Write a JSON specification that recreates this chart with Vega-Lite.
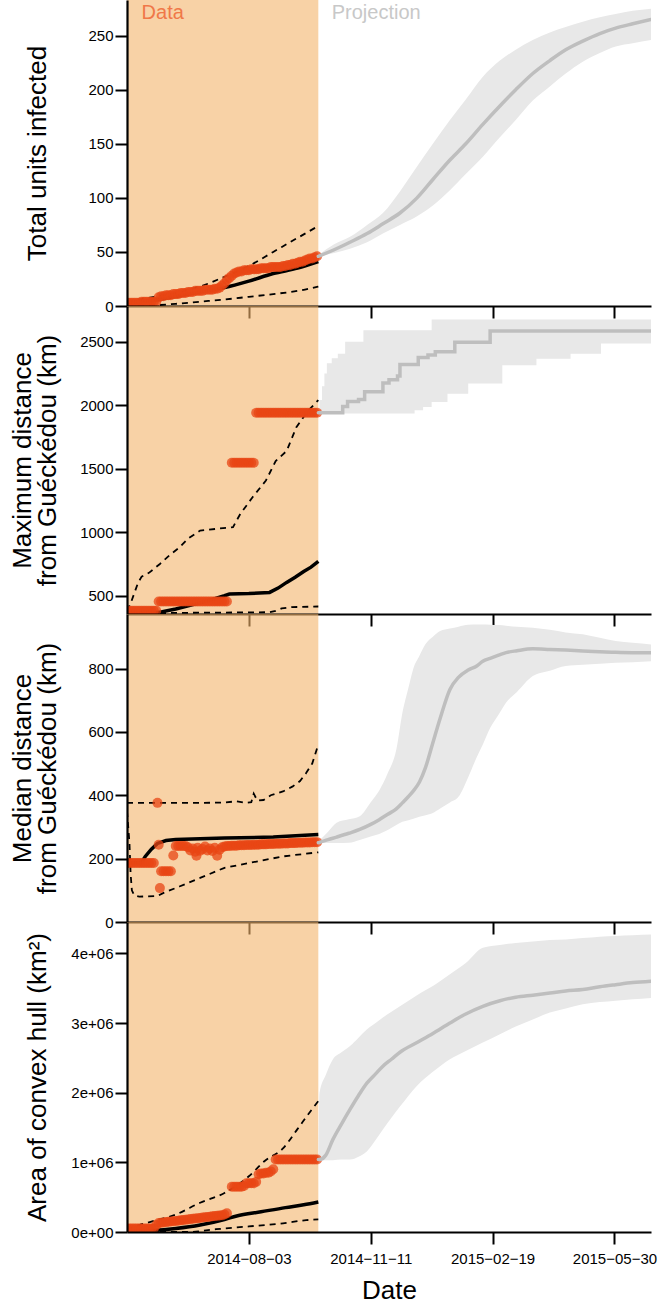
{
  "$schema": "https://vega.github.io/schema/vega-lite/v6.json",
  "autosize": {"type": "pad"},
  "padding": {"left": 9, "top": 0, "right": 4, "bottom": 3},
  "background": "white",
  "spacing": 0,
  "bounds": "flush",
  "config": {
    "font": "Liberation Sans",
    "view": {"stroke": null},
    "axis": {"grid": false, "domainColor": "#000", "domainWidth": 2.2, "tickColor": "#000", "tickWidth": 2, "tickSize": 12, "labelColor": "#000", "labelFontSize": 15, "titleColor": "#000", "titleFontSize": 26, "titleFontWeight": "normal", "zindex": 1, "labelFont": "Liberation Sans", "titleFont": "Liberation Sans"},
    "axisY": {"labelPadding": 2, "titleBaseline": "alphabetic", "titleLineHeight": 25},
    "axisX": {"labelPadding": 7, "labelFlush": false, "labelOverlap": false}
  },
  "datasets": {
    "obs1": [{"d":"2014-04-25","v":3},{"d":"2014-04-27","v":3},{"d":"2014-04-29","v":3},{"d":"2014-05-01","v":3},{"d":"2014-05-03","v":3},{"d":"2014-05-05","v":3},{"d":"2014-05-07","v":4},{"d":"2014-05-09","v":4},{"d":"2014-05-11","v":4},{"d":"2014-05-13","v":4},{"d":"2014-05-15","v":4},{"d":"2014-05-17","v":4},{"d":"2014-05-19","v":4},{"d":"2014-05-21","v":8},{"d":"2014-05-23","v":9},{"d":"2014-05-25","v":9},{"d":"2014-05-27","v":10},{"d":"2014-05-29","v":10},{"d":"2014-05-31","v":10},{"d":"2014-06-02","v":11},{"d":"2014-06-04","v":11},{"d":"2014-06-06","v":11},{"d":"2014-06-08","v":12},{"d":"2014-06-10","v":12},{"d":"2014-06-12","v":12},{"d":"2014-06-14","v":13},{"d":"2014-06-16","v":13},{"d":"2014-06-18","v":13},{"d":"2014-06-20","v":14},{"d":"2014-06-22","v":14},{"d":"2014-06-24","v":14},{"d":"2014-06-26","v":14},{"d":"2014-06-28","v":15},{"d":"2014-06-30","v":15},{"d":"2014-07-02","v":15},{"d":"2014-07-04","v":15},{"d":"2014-07-06","v":16},{"d":"2014-07-08","v":16},{"d":"2014-07-10","v":17},{"d":"2014-07-12","v":19},{"d":"2014-07-14","v":21},{"d":"2014-07-16","v":24},{"d":"2014-07-18","v":26},{"d":"2014-07-20","v":28},{"d":"2014-07-22","v":30},{"d":"2014-07-24","v":31},{"d":"2014-07-26","v":32},{"d":"2014-07-28","v":32},{"d":"2014-07-30","v":33},{"d":"2014-08-01","v":33},{"d":"2014-08-03","v":33},{"d":"2014-08-05","v":34},{"d":"2014-08-07","v":34},{"d":"2014-08-09","v":34},{"d":"2014-08-11","v":34},{"d":"2014-08-13","v":35},{"d":"2014-08-15","v":35},{"d":"2014-08-17","v":35},{"d":"2014-08-19","v":35},{"d":"2014-08-21","v":36},{"d":"2014-08-23","v":36},{"d":"2014-08-25","v":36},{"d":"2014-08-27","v":36},{"d":"2014-08-29","v":36},{"d":"2014-08-31","v":37},{"d":"2014-09-02","v":37},{"d":"2014-09-04","v":38},{"d":"2014-09-06","v":38},{"d":"2014-09-08","v":39},{"d":"2014-09-10","v":39},{"d":"2014-09-12","v":40},{"d":"2014-09-14","v":41},{"d":"2014-09-16","v":41},{"d":"2014-09-18","v":42},{"d":"2014-09-20","v":43},{"d":"2014-09-22","v":44},{"d":"2014-09-24","v":44},{"d":"2014-09-26","v":45},{"d":"2014-09-28","v":46}],
    "fit1": [{"d":"2014-04-25","s":"med","v":3},{"d":"2014-05-15","s":"med","v":5},{"d":"2014-06-04","s":"med","v":9},{"d":"2014-06-24","s":"med","v":13},{"d":"2014-07-14","s":"med","v":17},{"d":"2014-08-03","s":"med","v":23},{"d":"2014-08-23","s":"med","v":30},{"d":"2014-09-12","s":"med","v":35},{"d":"2014-09-29","s":"med","v":41},
      {"d":"2014-04-25","s":"lo","v":0},{"d":"2014-05-15","s":"lo","v":0.5},{"d":"2014-06-04","s":"lo","v":2},{"d":"2014-06-24","s":"lo","v":4},{"d":"2014-07-14","s":"lo","v":6},{"d":"2014-08-03","s":"lo","v":8.5},{"d":"2014-08-23","s":"lo","v":11},{"d":"2014-09-12","s":"lo","v":14},{"d":"2014-09-29","s":"lo","v":18},
      {"d":"2014-04-25","s":"hi","v":4},{"d":"2014-05-15","s":"hi","v":8},{"d":"2014-06-04","s":"hi","v":12},{"d":"2014-06-24","s":"hi","v":18},{"d":"2014-07-14","s":"hi","v":27},{"d":"2014-08-03","s":"hi","v":37},{"d":"2014-08-23","s":"hi","v":50},{"d":"2014-09-12","s":"hi","v":63},{"d":"2014-09-29","s":"hi","v":74}],
    "proj1": [{"d":"2014-09-29","med":46,"lo":46,"hi":47},{"d":"2014-10-12","med":52,"lo":49,"hi":57},{"d":"2014-10-25","med":59,"lo":53,"hi":64},{"d":"2014-11-08","med":67,"lo":59,"hi":75},{"d":"2014-11-21","med":76,"lo":67,"hi":86},{"d":"2014-12-05","med":86,"lo":75,"hi":106},{"d":"2014-12-19","med":100,"lo":83,"hi":129},{"d":"2015-01-01","med":117,"lo":93,"hi":150},{"d":"2015-01-15","med":135,"lo":107,"hi":172},{"d":"2015-01-28","med":150,"lo":122,"hi":191},{"d":"2015-02-11","med":168,"lo":138,"hi":212},{"d":"2015-02-25","med":185,"lo":156,"hi":227},{"d":"2015-03-10","med":200,"lo":172,"hi":237},{"d":"2015-03-24","med":215,"lo":190,"hi":246},{"d":"2015-04-07","med":227,"lo":203,"hi":253},{"d":"2015-04-20","med":237,"lo":215,"hi":258},{"d":"2015-05-04","med":245,"lo":226,"hi":263},{"d":"2015-05-18","med":252,"lo":234,"hi":267},{"d":"2015-05-31","med":257,"lo":240,"hi":270},{"d":"2015-06-14","med":261,"lo":243,"hi":273},{"d":"2015-06-29","med":265,"lo":246,"hi":275}],
    "labels1": [{"d":"2014-05-07","label":"Data","kind":"data"},{"d":"2014-10-10","label":"Projection","kind":"projection"}],
    "obs2": [{"d":"2014-04-25","v":382},{"d":"2014-04-27","v":382},{"d":"2014-04-29","v":382},{"d":"2014-05-01","v":382},{"d":"2014-05-03","v":382},{"d":"2014-05-05","v":382},{"d":"2014-05-07","v":382},{"d":"2014-05-09","v":382},{"d":"2014-05-11","v":382},{"d":"2014-05-13","v":382},{"d":"2014-05-15","v":382},{"d":"2014-05-17","v":382},{"d":"2014-05-19","v":382},{"d":"2014-05-21","v":455},{"d":"2014-05-23","v":455},{"d":"2014-05-25","v":455},{"d":"2014-05-27","v":455},{"d":"2014-05-29","v":455},{"d":"2014-05-31","v":455},{"d":"2014-06-02","v":455},{"d":"2014-06-04","v":455},{"d":"2014-06-06","v":455},{"d":"2014-06-08","v":455},{"d":"2014-06-10","v":455},{"d":"2014-06-12","v":455},{"d":"2014-06-14","v":455},{"d":"2014-06-16","v":455},{"d":"2014-06-18","v":455},{"d":"2014-06-20","v":455},{"d":"2014-06-22","v":455},{"d":"2014-06-24","v":455},{"d":"2014-06-26","v":455},{"d":"2014-06-28","v":455},{"d":"2014-06-30","v":455},{"d":"2014-07-02","v":455},{"d":"2014-07-04","v":455},{"d":"2014-07-06","v":455},{"d":"2014-07-08","v":455},{"d":"2014-07-10","v":455},{"d":"2014-07-12","v":455},{"d":"2014-07-14","v":455},{"d":"2014-07-16","v":455},{"d":"2014-07-20","v":1547},{"d":"2014-07-22","v":1547},{"d":"2014-07-24","v":1547},{"d":"2014-07-26","v":1547},{"d":"2014-07-28","v":1547},{"d":"2014-07-30","v":1547},{"d":"2014-08-01","v":1547},{"d":"2014-08-03","v":1547},{"d":"2014-08-05","v":1547},{"d":"2014-08-07","v":1547},{"d":"2014-08-09","v":1940},{"d":"2014-08-11","v":1940},{"d":"2014-08-13","v":1940},{"d":"2014-08-15","v":1940},{"d":"2014-08-17","v":1940},{"d":"2014-08-19","v":1940},{"d":"2014-08-21","v":1940},{"d":"2014-08-23","v":1940},{"d":"2014-08-25","v":1940},{"d":"2014-08-27","v":1940},{"d":"2014-08-29","v":1940},{"d":"2014-08-31","v":1940},{"d":"2014-09-02","v":1940},{"d":"2014-09-04","v":1940},{"d":"2014-09-06","v":1940},{"d":"2014-09-08","v":1940},{"d":"2014-09-10","v":1940},{"d":"2014-09-12","v":1940},{"d":"2014-09-14","v":1940},{"d":"2014-09-16","v":1940},{"d":"2014-09-18","v":1940},{"d":"2014-09-20","v":1940},{"d":"2014-09-22","v":1940},{"d":"2014-09-24","v":1940},{"d":"2014-09-26","v":1940},{"d":"2014-09-28","v":1940}],
    "fit2": [{"d":"2014-04-25","s":"med","v":365},{"d":"2014-05-21","s":"med","v":369},{"d":"2014-06-04","s":"med","v":395},{"d":"2014-06-19","s":"med","v":432},{"d":"2014-07-04","s":"med","v":470},{"d":"2014-07-14","s":"med","v":500},{"d":"2014-07-18","s":"med","v":513},{"d":"2014-08-03","s":"med","v":517},{"d":"2014-08-20","s":"med","v":526},{"d":"2014-08-27","s":"med","v":560},{"d":"2014-09-03","s":"med","v":605},{"d":"2014-09-10","s":"med","v":645},{"d":"2014-09-17","s":"med","v":690},{"d":"2014-09-23","s":"med","v":725},{"d":"2014-09-29","s":"med","v":770},
      {"d":"2014-04-25","s":"hi","v":382},{"d":"2014-04-28","s":"hi","v":440},{"d":"2014-05-01","s":"hi","v":520},{"d":"2014-05-04","s":"hi","v":600},{"d":"2014-05-07","s":"hi","v":650},{"d":"2014-05-13","s":"hi","v":680},{"d":"2014-05-22","s":"hi","v":750},{"d":"2014-05-30","s":"hi","v":820},{"d":"2014-06-07","s":"hi","v":880},{"d":"2014-06-14","s":"hi","v":950},{"d":"2014-06-24","s":"hi","v":1013},{"d":"2014-07-07","s":"hi","v":1026},{"d":"2014-07-21","s":"hi","v":1040},{"d":"2014-07-27","s":"hi","v":1144},{"d":"2014-08-06","s":"hi","v":1275},{"d":"2014-08-17","s":"hi","v":1407},{"d":"2014-08-25","s":"hi","v":1560},{"d":"2014-09-03","s":"hi","v":1640},{"d":"2014-09-11","s":"hi","v":1827},{"d":"2014-09-20","s":"hi","v":1950},{"d":"2014-09-29","s":"hi","v":2040},
      {"d":"2014-04-25","s":"lo","v":360},{"d":"2014-05-15","s":"lo","v":362},{"d":"2014-06-04","s":"lo","v":365},{"d":"2014-07-24","s":"lo","v":368},{"d":"2014-08-20","s":"lo","v":370},{"d":"2014-08-25","s":"lo","v":380},{"d":"2014-08-30","s":"lo","v":400},{"d":"2014-09-07","s":"lo","v":410},{"d":"2014-09-29","s":"lo","v":415}],
    "proj2": [{"d":"2014-09-29","med":1940,"lo":1935,"hi":1940},{"d":"2014-09-30","med":1940,"lo":1935,"hi":2040},{"d":"2014-10-02","med":1940,"lo":1935,"hi":2150},{"d":"2014-10-04","med":1940,"lo":1935,"hi":2250},{"d":"2014-10-06","med":1940,"lo":1935,"hi":2330},{"d":"2014-10-10","med":1940,"lo":1935,"hi":2370},{"d":"2014-10-15","med":1940,"lo":1935,"hi":2405},{"d":"2014-10-19","med":1990,"lo":1935,"hi":2405},{"d":"2014-10-21","med":1990,"lo":1935,"hi":2500},{"d":"2014-10-23","med":2030,"lo":1935,"hi":2500},{"d":"2014-11-01","med":2045,"lo":1935,"hi":2500},{"d":"2014-11-05","med":2045,"lo":1935,"hi":2590},{"d":"2014-11-06","med":2105,"lo":1935,"hi":2590},{"d":"2014-11-21","med":2175,"lo":1935,"hi":2590},{"d":"2014-11-26","med":2200,"lo":1935,"hi":2590},{"d":"2014-12-03","med":2230,"lo":1935,"hi":2590},{"d":"2014-12-05","med":2320,"lo":1935,"hi":2590},{"d":"2014-12-17","med":2320,"lo":1960,"hi":2590},{"d":"2014-12-20","med":2375,"lo":1960,"hi":2590},{"d":"2014-12-24","med":2375,"lo":1985,"hi":2590},{"d":"2014-12-28","med":2395,"lo":1985,"hi":2590},{"d":"2014-12-31","med":2395,"lo":2025,"hi":2675},{"d":"2015-01-03","med":2420,"lo":2025,"hi":2675},{"d":"2015-01-13","med":2420,"lo":2090,"hi":2675},{"d":"2015-01-19","med":2495,"lo":2090,"hi":2675},{"d":"2015-01-30","med":2495,"lo":2170,"hi":2675},{"d":"2015-02-17","med":2585,"lo":2170,"hi":2675},{"d":"2015-02-27","med":2585,"lo":2315,"hi":2675},{"d":"2015-03-27","med":2585,"lo":2365,"hi":2675},{"d":"2015-04-24","med":2585,"lo":2405,"hi":2675},{"d":"2015-05-19","med":2585,"lo":2485,"hi":2675},{"d":"2015-06-29","med":2585,"lo":2485,"hi":2675}],
    "obs3": [{"d":"2014-04-25","v":186},{"d":"2014-04-27","v":186},{"d":"2014-04-29","v":186},{"d":"2014-05-01","v":186},{"d":"2014-05-03","v":186},{"d":"2014-05-05","v":186},{"d":"2014-05-07","v":186},{"d":"2014-05-09","v":186},{"d":"2014-05-11","v":186},{"d":"2014-05-13","v":186},{"d":"2014-05-15","v":186},{"d":"2014-05-17","v":186},{"d":"2014-05-20","v":376},{"d":"2014-05-21","v":244},{"d":"2014-05-22","v":107},{"d":"2014-05-23","v":160},{"d":"2014-05-25","v":160},{"d":"2014-05-27","v":160},{"d":"2014-05-29","v":160},{"d":"2014-05-31","v":160},{"d":"2014-06-02","v":210},{"d":"2014-06-04","v":240},{"d":"2014-06-06","v":240},{"d":"2014-06-08","v":240},{"d":"2014-06-10","v":240},{"d":"2014-06-12","v":240},{"d":"2014-06-14","v":236},{"d":"2014-06-16","v":226},{"d":"2014-06-18","v":232},{"d":"2014-06-20","v":222},{"d":"2014-06-21","v":209},{"d":"2014-06-22","v":234},{"d":"2014-06-24","v":225},{"d":"2014-06-26","v":230},{"d":"2014-06-28","v":238},{"d":"2014-06-30","v":226},{"d":"2014-07-02","v":232},{"d":"2014-07-04","v":224},{"d":"2014-07-06","v":234},{"d":"2014-07-08","v":209},{"d":"2014-07-10","v":228},{"d":"2014-07-12","v":236},{"d":"2014-07-14","v":238},{"d":"2014-07-16","v":240},{"d":"2014-07-18","v":240},{"d":"2014-07-20","v":241},{"d":"2014-07-22","v":241},{"d":"2014-07-24","v":241},{"d":"2014-07-26","v":242},{"d":"2014-07-28","v":242},{"d":"2014-07-30","v":242},{"d":"2014-08-01","v":243},{"d":"2014-08-03","v":243},{"d":"2014-08-05","v":243},{"d":"2014-08-07","v":244},{"d":"2014-08-09","v":244},{"d":"2014-08-11","v":244},{"d":"2014-08-13","v":245},{"d":"2014-08-15","v":245},{"d":"2014-08-17","v":245},{"d":"2014-08-19","v":246},{"d":"2014-08-21","v":246},{"d":"2014-08-23","v":246},{"d":"2014-08-25","v":247},{"d":"2014-08-27","v":247},{"d":"2014-08-29","v":247},{"d":"2014-08-31","v":248},{"d":"2014-09-02","v":248},{"d":"2014-09-04","v":248},{"d":"2014-09-06","v":249},{"d":"2014-09-08","v":249},{"d":"2014-09-10","v":249},{"d":"2014-09-12","v":250},{"d":"2014-09-14","v":250},{"d":"2014-09-16","v":250},{"d":"2014-09-18","v":251},{"d":"2014-09-20","v":251},{"d":"2014-09-22","v":251},{"d":"2014-09-24","v":252},{"d":"2014-09-26","v":252},{"d":"2014-09-28","v":252}],
    "fit3": [{"d":"2014-04-25","s":"med","v":186},{"d":"2014-05-07","s":"med","v":188},{"d":"2014-05-10","s":"med","v":207},{"d":"2014-05-15","s":"med","v":230},{"d":"2014-05-20","s":"med","v":248},{"d":"2014-05-27","s":"med","v":257},{"d":"2014-06-04","s":"med","v":260},{"d":"2014-07-14","s":"med","v":265},{"d":"2014-08-23","s":"med","v":268},{"d":"2014-09-29","s":"med","v":276},
      {"d":"2014-04-25","s":"lo","v":350},{"d":"2014-04-27","s":"lo","v":250},{"d":"2014-04-28","s":"lo","v":150},{"d":"2014-04-29","s":"lo","v":100},{"d":"2014-05-01","s":"lo","v":84},{"d":"2014-05-05","s":"lo","v":80},{"d":"2014-05-20","s":"lo","v":82},{"d":"2014-05-25","s":"lo","v":92},{"d":"2014-06-07","s":"lo","v":112},{"d":"2014-06-24","s":"lo","v":139},{"d":"2014-07-14","s":"lo","v":171},{"d":"2014-08-03","s":"lo","v":186},{"d":"2014-08-31","s":"lo","v":207},{"d":"2014-09-29","s":"lo","v":220},
      {"d":"2014-04-25","s":"hi","v":376},{"d":"2014-06-24","s":"hi","v":376},{"d":"2014-07-14","s":"hi","v":377},{"d":"2014-07-24","s":"hi","v":381},{"d":"2014-08-01","s":"hi","v":376},{"d":"2014-08-05","s":"hi","v":378},{"d":"2014-08-07","s":"hi","v":405},{"d":"2014-08-10","s":"hi","v":383},{"d":"2014-08-15","s":"hi","v":385},{"d":"2014-08-21","s":"hi","v":400},{"d":"2014-08-31","s":"hi","v":412},{"d":"2014-09-08","s":"hi","v":428},{"d":"2014-09-14","s":"hi","v":445},{"d":"2014-09-19","s":"hi","v":470},{"d":"2014-09-24","s":"hi","v":500},{"d":"2014-09-29","s":"hi","v":560}],
    "proj3": [{"d":"2014-09-29","med":250,"lo":248,"hi":253},{"d":"2014-10-07","med":260,"lo":249,"hi":285},{"d":"2014-10-14","med":268,"lo":249,"hi":313},{"d":"2014-10-24","med":280,"lo":250,"hi":324},{"d":"2014-11-02","med":292,"lo":259,"hi":334},{"d":"2014-11-11","med":308,"lo":270,"hi":378},{"d":"2014-11-18","med":323,"lo":278,"hi":415},{"d":"2014-11-25","med":340,"lo":290,"hi":470},{"d":"2014-12-02","med":357,"lo":306,"hi":544},{"d":"2014-12-07","med":376,"lo":316,"hi":660},{"d":"2014-12-12","med":396,"lo":321,"hi":740},{"d":"2014-12-16","med":414,"lo":326,"hi":800},{"d":"2014-12-21","med":442,"lo":332,"hi":840},{"d":"2014-12-26","med":488,"lo":337,"hi":877},{"d":"2015-01-01","med":566,"lo":344,"hi":900},{"d":"2015-01-07","med":643,"lo":358,"hi":918},{"d":"2015-01-15","med":734,"lo":377,"hi":926},{"d":"2015-01-22","med":772,"lo":395,"hi":932},{"d":"2015-01-30","med":795,"lo":457,"hi":938},{"d":"2015-02-06","med":808,"lo":520,"hi":939},{"d":"2015-02-11","med":823,"lo":560,"hi":939},{"d":"2015-02-17","med":832,"lo":612,"hi":938},{"d":"2015-02-24","med":842,"lo":655,"hi":937},{"d":"2015-03-02","med":850,"lo":692,"hi":935},{"d":"2015-03-11","med":856,"lo":726,"hi":932},{"d":"2015-03-24","med":862,"lo":776,"hi":929},{"d":"2015-04-07","med":860,"lo":793,"hi":922},{"d":"2015-04-20","med":858,"lo":808,"hi":914},{"d":"2015-05-04","med":855,"lo":812,"hi":908},{"d":"2015-05-18","med":853,"lo":815,"hi":897},{"d":"2015-05-31","med":851,"lo":818,"hi":887},{"d":"2015-06-14","med":850,"lo":820,"hi":881},{"d":"2015-06-29","med":850,"lo":823,"hi":876}],
    "obs4": [{"d":"2014-04-25","v":50000},{"d":"2014-04-27","v":50000},{"d":"2014-04-29","v":50000},{"d":"2014-05-01","v":50000},{"d":"2014-05-03","v":50000},{"d":"2014-05-05","v":50000},{"d":"2014-05-07","v":50000},{"d":"2014-05-09","v":50000},{"d":"2014-05-11","v":50000},{"d":"2014-05-13","v":50000},{"d":"2014-05-15","v":50000},{"d":"2014-05-17","v":50000},{"d":"2014-05-19","v":100000},{"d":"2014-05-21","v":130000},{"d":"2014-05-23","v":134000},{"d":"2014-05-25","v":138000},{"d":"2014-05-27","v":142000},{"d":"2014-05-29","v":146000},{"d":"2014-05-31","v":150000},{"d":"2014-06-02","v":155000},{"d":"2014-06-04","v":159000},{"d":"2014-06-06","v":163000},{"d":"2014-06-08","v":167000},{"d":"2014-06-10","v":172000},{"d":"2014-06-12","v":176000},{"d":"2014-06-14","v":180000},{"d":"2014-06-16","v":185000},{"d":"2014-06-18","v":190000},{"d":"2014-06-20","v":194000},{"d":"2014-06-22","v":198000},{"d":"2014-06-24","v":202000},{"d":"2014-06-26","v":207000},{"d":"2014-06-28","v":211000},{"d":"2014-06-30","v":215000},{"d":"2014-07-02","v":220000},{"d":"2014-07-04","v":225000},{"d":"2014-07-06","v":229000},{"d":"2014-07-08","v":233000},{"d":"2014-07-10","v":238000},{"d":"2014-07-12","v":242000},{"d":"2014-07-14","v":250000},{"d":"2014-07-16","v":270000},{"d":"2014-07-20","v":650000},{"d":"2014-07-22","v":650000},{"d":"2014-07-24","v":650000},{"d":"2014-07-26","v":650000},{"d":"2014-07-28","v":650000},{"d":"2014-07-30","v":660000},{"d":"2014-08-01","v":700000},{"d":"2014-08-03","v":700000},{"d":"2014-08-05","v":700000},{"d":"2014-08-07","v":700000},{"d":"2014-08-09","v":720000},{"d":"2014-08-11","v":830000},{"d":"2014-08-13","v":840000},{"d":"2014-08-15","v":840000},{"d":"2014-08-17","v":850000},{"d":"2014-08-19","v":850000},{"d":"2014-08-21","v":870000},{"d":"2014-08-23","v":900000},{"d":"2014-08-25","v":1040000},{"d":"2014-08-27","v":1040000},{"d":"2014-08-29","v":1040000},{"d":"2014-08-31","v":1040000},{"d":"2014-09-02","v":1040000},{"d":"2014-09-04","v":1040000},{"d":"2014-09-06","v":1040000},{"d":"2014-09-08","v":1040000},{"d":"2014-09-10","v":1040000},{"d":"2014-09-12","v":1040000},{"d":"2014-09-14","v":1040000},{"d":"2014-09-16","v":1040000},{"d":"2014-09-18","v":1040000},{"d":"2014-09-20","v":1040000},{"d":"2014-09-22","v":1040000},{"d":"2014-09-24","v":1040000},{"d":"2014-09-26","v":1040000},{"d":"2014-09-28","v":1040000}],
    "fit4": [{"d":"2014-04-25","s":"med","v":10000},{"d":"2014-05-15","s":"med","v":20000},{"d":"2014-06-04","s":"med","v":50000},{"d":"2014-06-24","s":"med","v":100000},{"d":"2014-07-14","s":"med","v":180000},{"d":"2014-07-24","s":"med","v":230000},{"d":"2014-08-13","s":"med","v":290000},{"d":"2014-09-02","s":"med","v":350000},{"d":"2014-09-17","s":"med","v":390000},{"d":"2014-09-29","s":"med","v":430000},
      {"d":"2014-04-25","s":"hi","v":40000},{"d":"2014-05-05","s":"hi","v":100000},{"d":"2014-05-15","s":"hi","v":150000},{"d":"2014-06-04","s":"hi","v":250000},{"d":"2014-06-24","s":"hi","v":420000},{"d":"2014-07-14","s":"hi","v":560000},{"d":"2014-08-03","s":"hi","v":800000},{"d":"2014-08-16","s":"hi","v":1020000},{"d":"2014-08-31","s":"hi","v":1200000},{"d":"2014-09-12","s":"hi","v":1480000},{"d":"2014-09-22","s":"hi","v":1720000},{"d":"2014-09-29","s":"hi","v":1880000},
      {"d":"2014-04-25","s":"lo","v":0},{"d":"2014-06-14","s":"lo","v":0},{"d":"2014-07-07","s":"lo","v":40000},{"d":"2014-08-03","s":"lo","v":80000},{"d":"2014-08-31","s":"lo","v":125000},{"d":"2014-09-19","s":"lo","v":170000},{"d":"2014-09-29","s":"lo","v":180000}],
    "proj4": [{"d":"2014-09-29","med":1040000,"lo":1030000,"hi":1040000},{"d":"2014-09-30","med":1040000,"lo":1030000,"hi":2000000},{"d":"2014-10-05","med":1100000,"lo":1030000,"hi":2250000},{"d":"2014-10-11","med":1330000,"lo":1030000,"hi":2480000},{"d":"2014-10-18","med":1550000,"lo":1040000,"hi":2580000},{"d":"2014-10-25","med":1760000,"lo":1040000,"hi":2670000},{"d":"2014-11-01","med":1960000,"lo":1080000,"hi":2790000},{"d":"2014-11-08","med":2140000,"lo":1160000,"hi":2910000},{"d":"2014-11-15","med":2270000,"lo":1320000,"hi":3000000},{"d":"2014-11-21","med":2380000,"lo":1470000,"hi":3080000},{"d":"2014-11-28","med":2480000,"lo":1640000,"hi":3160000},{"d":"2014-12-05","med":2580000,"lo":1800000,"hi":3240000},{"d":"2014-12-19","med":2720000,"lo":2100000,"hi":3400000},{"d":"2015-01-01","med":2850000,"lo":2300000,"hi":3530000},{"d":"2015-01-15","med":3000000,"lo":2480000,"hi":3700000},{"d":"2015-01-28","med":3130000,"lo":2600000,"hi":3860000},{"d":"2015-02-11","med":3240000,"lo":2720000,"hi":4080000},{"d":"2015-02-25","med":3320000,"lo":2840000,"hi":4120000},{"d":"2015-03-10","med":3370000,"lo":2950000,"hi":4150000},{"d":"2015-03-24","med":3400000,"lo":3050000,"hi":4170000},{"d":"2015-04-07","med":3430000,"lo":3150000,"hi":4190000},{"d":"2015-04-20","med":3460000,"lo":3210000,"hi":4200000},{"d":"2015-05-04","med":3480000,"lo":3270000,"hi":4220000},{"d":"2015-05-18","med":3520000,"lo":3300000,"hi":4240000},{"d":"2015-05-31","med":3550000,"lo":3320000,"hi":4250000},{"d":"2015-06-14","med":3580000,"lo":3340000,"hi":4260000},{"d":"2015-06-29","med":3600000,"lo":3360000,"hi":4270000}]
  },
  "vconcat": [
    {
      "width": 524, "height": 306,
      "encoding": {"x": {"field": "d", "type": "temporal", "title": null, "scale": {"type": "utc", "domain": [{"year":2014,"month":4,"date":25,"utc":true},{"year":2015,"month":6,"date":29,"utc":true}]}, "axis": {"values": [{"year":2014,"month":8,"date":3,"utc":true},{"year":2014,"month":11,"date":11,"utc":true},{"year":2015,"month":2,"date":19,"utc":true},{"year":2015,"month":5,"date":30,"utc":true}], "labels": false, "zindex": 1}}},
      "layer": [
        {"data": {"values": [{"d": "2014-04-25", "e": "2014-09-29"}]}, "mark": {"type": "rect", "color": "#F3B46A", "opacity": 0.6}, "encoding": {"x2": {"field": "e"}}},
        {"data": {"name": "proj1"}, "mark": {"type": "area", "color": "#E8E8E8", "interpolate": "monotone", "clip": true}, "encoding": {"y": {"field": "lo", "type": "quantitative", "title": "Total units infected", "scale": {"domain": [0, 283], "nice": false, "zero": false}, "axis": {"values": [0, 50, 100, 150, 200, 250], "titleX": -82, "zindex": 1}}, "y2": {"field": "hi"}}},
        {"data": {"name": "fit1"}, "transform": [{"filter": "datum.s == 'med'"}], "mark": {"type": "line", "color": "#000", "strokeWidth": 3.5, "interpolate": "monotone", "clip": true}, "encoding": {"y": {"field": "v", "type": "quantitative", "title": "Total units infected"}}},
        {"data": {"name": "fit1"}, "transform": [{"filter": "datum.s != 'med'"}], "mark": {"type": "line", "color": "#000", "strokeWidth": 1.8, "strokeDash": [6, 5], "interpolate": "monotone", "clip": true}, "encoding": {"y": {"field": "v", "type": "quantitative", "title": "Total units infected"}, "detail": {"field": "s"}}},
        {"data": {"name": "obs1"}, "mark": {"type": "circle", "color": "#E84514", "opacity": 0.75, "size": 100, "clip": true}, "encoding": {"y": {"field": "v", "type": "quantitative", "title": "Total units infected"}}},
        {"data": {"name": "proj1"}, "mark": {"type": "line", "color": "#BEBEBE", "strokeWidth": 3.5, "strokeCap": "round", "interpolate": "monotone", "clip": true}, "encoding": {"y": {"field": "med", "type": "quantitative", "title": "Total units infected"}}},
        {"data": {"name": "labels1"}, "mark": {"type": "text", "fontSize": 20, "align": "left", "baseline": "alphabetic"}, "encoding": {"text": {"field": "label", "type": "nominal"}, "color": {"field": "kind", "type": "nominal", "scale": {"domain": ["data", "projection"], "range": ["#F07848", "#C8C8C8"]}, "legend": null}, "y": {"datum": 265, "type": "quantitative", "title": "Total units infected"}}}
      ]
    },
    {
      "width": 524, "height": 308,
      "encoding": {"x": {"field": "d", "type": "temporal", "title": null, "scale": {"type": "utc", "domain": [{"year":2014,"month":4,"date":25,"utc":true},{"year":2015,"month":6,"date":29,"utc":true}]}, "axis": {"values": [{"year":2014,"month":8,"date":3,"utc":true},{"year":2014,"month":11,"date":11,"utc":true},{"year":2015,"month":2,"date":19,"utc":true},{"year":2015,"month":5,"date":30,"utc":true}], "labels": false, "zindex": 1}}},
      "layer": [
        {"data": {"values": [{"d": "2014-04-25", "e": "2014-09-29"}]}, "mark": {"type": "rect", "color": "#F3B46A", "opacity": 0.6}, "encoding": {"x2": {"field": "e"}}},
        {"data": {"name": "proj2"}, "mark": {"type": "area", "color": "#E8E8E8", "interpolate": "step-after", "clip": true}, "encoding": {"y": {"field": "lo", "type": "quantitative", "title": ["Maximum distance", "from Guéckédou (km)"], "scale": {"domain": [356, 2781], "nice": false, "zero": false}, "axis": {"values": [500, 1000, 1500, 2000, 2500], "format": "d", "titleX": -97, "zindex": 1}}, "y2": {"field": "hi"}}},
        {"data": {"name": "fit2"}, "transform": [{"filter": "datum.s == 'med'"}], "mark": {"type": "line", "color": "#000", "strokeWidth": 3.5, "clip": true}, "encoding": {"y": {"field": "v", "type": "quantitative", "title": ["Maximum distance", "from Guéckédou (km)"]}}},
        {"data": {"name": "fit2"}, "transform": [{"filter": "datum.s != 'med'"}], "mark": {"type": "line", "color": "#000", "strokeWidth": 1.8, "strokeDash": [6, 5], "clip": true}, "encoding": {"y": {"field": "v", "type": "quantitative", "title": ["Maximum distance", "from Guéckédou (km)"]}, "detail": {"field": "s"}}},
        {"data": {"name": "obs2"}, "mark": {"type": "circle", "color": "#E84514", "opacity": 0.75, "size": 100, "clip": true}, "encoding": {"y": {"field": "v", "type": "quantitative", "title": ["Maximum distance", "from Guéckédou (km)"]}}},
        {"data": {"name": "proj2"}, "mark": {"type": "line", "color": "#BEBEBE", "strokeWidth": 3.5, "interpolate": "step-after", "strokeCap": "round", "clip": true}, "encoding": {"y": {"field": "med", "type": "quantitative", "title": ["Maximum distance", "from Guéckédou (km)"]}}}
      ]
    },
    {
      "width": 524, "height": 308,
      "encoding": {"x": {"field": "d", "type": "temporal", "title": null, "scale": {"type": "utc", "domain": [{"year":2014,"month":4,"date":25,"utc":true},{"year":2015,"month":6,"date":29,"utc":true}]}, "axis": {"values": [{"year":2014,"month":8,"date":3,"utc":true},{"year":2014,"month":11,"date":11,"utc":true},{"year":2015,"month":2,"date":19,"utc":true},{"year":2015,"month":5,"date":30,"utc":true}], "labels": false, "zindex": 1}}},
      "layer": [
        {"data": {"values": [{"d": "2014-04-25", "e": "2014-09-29"}]}, "mark": {"type": "rect", "color": "#F3B46A", "opacity": 0.6}, "encoding": {"x2": {"field": "e"}}},
        {"data": {"name": "proj3"}, "mark": {"type": "area", "color": "#E8E8E8", "interpolate": "monotone", "clip": true}, "encoding": {"y": {"field": "lo", "type": "quantitative", "title": ["Median distance", "from Guéckédou (km)"], "scale": {"domain": [0, 972], "nice": false, "zero": false}, "axis": {"values": [0, 200, 400, 600, 800], "titleX": -97, "zindex": 1}}, "y2": {"field": "hi"}}},
        {"data": {"name": "fit3"}, "transform": [{"filter": "datum.s == 'med'"}], "mark": {"type": "line", "color": "#000", "strokeWidth": 3.5, "clip": true}, "encoding": {"y": {"field": "v", "type": "quantitative", "title": ["Median distance", "from Guéckédou (km)"]}}},
        {"data": {"name": "fit3"}, "transform": [{"filter": "datum.s != 'med'"}], "mark": {"type": "line", "color": "#000", "strokeWidth": 1.8, "strokeDash": [6, 5], "clip": true}, "encoding": {"y": {"field": "v", "type": "quantitative", "title": ["Median distance", "from Guéckédou (km)"]}, "detail": {"field": "s"}}},
        {"data": {"name": "obs3"}, "mark": {"type": "circle", "color": "#E84514", "opacity": 0.75, "size": 100, "clip": true}, "encoding": {"y": {"field": "v", "type": "quantitative", "title": ["Median distance", "from Guéckédou (km)"]}}},
        {"data": {"name": "proj3"}, "mark": {"type": "line", "color": "#BEBEBE", "strokeWidth": 3.5, "strokeCap": "round", "interpolate": "monotone", "clip": true}, "encoding": {"y": {"field": "med", "type": "quantitative", "title": ["Median distance", "from Guéckédou (km)"]}}}
      ]
    },
    {
      "width": 524, "height": 310,
      "encoding": {"x": {"field": "d", "type": "temporal", "title": "Date", "scale": {"type": "utc", "domain": [{"year":2014,"month":4,"date":25,"utc":true},{"year":2015,"month":6,"date":29,"utc":true}]}, "axis": {"values": [{"year":2014,"month":8,"date":3,"utc":true},{"year":2014,"month":11,"date":11,"utc":true},{"year":2015,"month":2,"date":19,"utc":true},{"year":2015,"month":5,"date":30,"utc":true}], "format": "%Y−%m−%d", "titlePadding": 11, "zindex": 1}}},
      "layer": [
        {"data": {"values": [{"d": "2014-04-25", "e": "2014-09-29"}]}, "mark": {"type": "rect", "color": "#F3B46A", "opacity": 0.6}, "encoding": {"x2": {"field": "e"}}},
        {"data": {"name": "proj4"}, "mark": {"type": "area", "color": "#E8E8E8", "interpolate": "monotone", "clip": true}, "encoding": {"y": {"field": "lo", "type": "quantitative", "title": "Area of convex hull  (km²)", "scale": {"domain": [0, 4450000], "nice": false, "zero": false}, "axis": {"values": [0, 1000000, 2000000, 3000000, 4000000], "titleX": -82, "zindex": 1, "labelExpr": "datum.value == 0 ? '0e+00' : format(datum.value / 1000000, 'd') + 'e+06'"}}, "y2": {"field": "hi"}}},
        {"data": {"name": "fit4"}, "transform": [{"filter": "datum.s == 'med'"}], "mark": {"type": "line", "color": "#000", "strokeWidth": 3.5, "interpolate": "monotone", "clip": true}, "encoding": {"y": {"field": "v", "type": "quantitative", "title": "Area of convex hull  (km²)"}}},
        {"data": {"name": "fit4"}, "transform": [{"filter": "datum.s != 'med'"}], "mark": {"type": "line", "color": "#000", "strokeWidth": 1.8, "strokeDash": [6, 5], "interpolate": "monotone", "clip": true}, "encoding": {"y": {"field": "v", "type": "quantitative", "title": "Area of convex hull  (km²)"}, "detail": {"field": "s"}}},
        {"data": {"name": "obs4"}, "mark": {"type": "circle", "color": "#E84514", "opacity": 0.75, "size": 100, "clip": true}, "encoding": {"y": {"field": "v", "type": "quantitative", "title": "Area of convex hull  (km²)"}}},
        {"data": {"name": "proj4"}, "mark": {"type": "line", "color": "#BEBEBE", "strokeWidth": 3.5, "strokeCap": "round", "interpolate": "monotone", "clip": true}, "encoding": {"y": {"field": "med", "type": "quantitative", "title": "Area of convex hull  (km²)"}}}
      ]
    }
  ]
}
